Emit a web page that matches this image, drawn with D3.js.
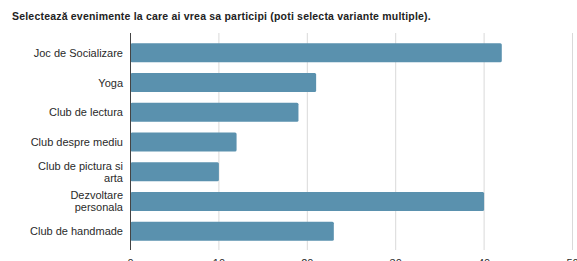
<!DOCTYPE html>
<html>
<head>
  <meta charset="utf-8" />
  <script src="https://d3js.org/d3.v7.min.js"></script>
  <style>
    body { margin: 0; padding: 0; background: #ffffff; overflow: hidden; }
    text { font-family: "Liberation Sans", Arial, sans-serif; fill: #222; }
    .title { font-size: 10.5px; font-weight: bold; letter-spacing: 0.2px; }
    .cat-label { font-size: 11px; text-anchor: end; fill: #2a2a2a; }
    .tick-label { font-size: 11px; text-anchor: middle; fill: #2a2a2a; }
  </style>
</head>
<body>
  <svg id="chart" width="577" height="261"></svg>
  <script>
    const categories = [
      "Joc de Socializare",
      "Yoga",
      "Club de lectura",
      "Club despre mediu",
      "Club de pictura si arta",
      "Dezvoltare personala",
      "Club de handmade"
    ];
    // wrapped label lines as they appear in the picture
    const labelLines = [
      ["Joc de Socializare"],
      ["Yoga"],
      ["Club de lectura"],
      ["Club despre mediu"],
      ["Club de pictura si", "arta"],
      ["Dezvoltare", "personala"],
      ["Club de handmade"]
    ];
    const counts = [42, 21, 19, 12, 10, 40, 23];
    const xTicks = [0, 10, 20, 30, 40, 50];
    const titleText = "Selectează evenimente la care ai vrea sa participi (poti selecta variante multiple).";

    const svg = d3.select("#chart");

    const x = d3.scaleLinear().domain([0, 50]).range([130.5, 572.5]);
    const y = d3.scaleBand().domain(categories).range([38, 246]).paddingInner(0.36).paddingOuter(0.18);

    const gridTop = 33, gridBottom = 250;

    svg.append("text")
      .attr("class", "title")
      .attr("x", 12)
      .attr("y", 20)
      .text(titleText);

    // grid lines
    svg.append("g")
      .selectAll("line")
      .data(xTicks.slice(1))
      .enter()
      .append("line")
      .attr("x1", d => x(d)).attr("x2", d => x(d))
      .attr("y1", gridTop).attr("y2", gridBottom)
      .attr("stroke", "#d9d9d9")
      .attr("stroke-width", 1);

    // bars
    svg.append("g")
      .selectAll("rect")
      .data(categories)
      .enter()
      .append("rect")
      .attr("x", x(0))
      .attr("y", d => y(d))
      .attr("width", (d, i) => x(counts[i]) - x(0))
      .attr("height", y.bandwidth())
      .attr("rx", 1.5)
      .attr("fill", "#5a91ae");

    // y axis line
    svg.append("line")
      .attr("x1", x(0)).attr("x2", x(0))
      .attr("y1", gridTop).attr("y2", gridBottom)
      .attr("stroke", "#444")
      .attr("stroke-width", 1);

    // category labels
    const lh = 12;
    svg.append("g")
      .selectAll("text")
      .data(categories)
      .enter()
      .append("text")
      .attr("class", "cat-label")
      .attr("x", 123)
      .attr("y", (d, i) => y(d) + y.bandwidth() / 2 + 4 - (labelLines[i].length - 1) * lh / 2)
      .each(function(d, i) {
        const t = d3.select(this);
        labelLines[i].forEach((ln, j) => {
          t.append("tspan").attr("x", 123).attr("dy", j === 0 ? 0 : lh).text(ln);
        });
      });

    // x tick labels (cut off at the bottom edge, as in the picture)
    svg.append("g")
      .selectAll("text")
      .data(xTicks)
      .enter()
      .append("text")
      .attr("class", "tick-label")
      .attr("x", d => x(d))
      .attr("y", 267)
      .text(d => d);
  </script>
</body>
</html>
